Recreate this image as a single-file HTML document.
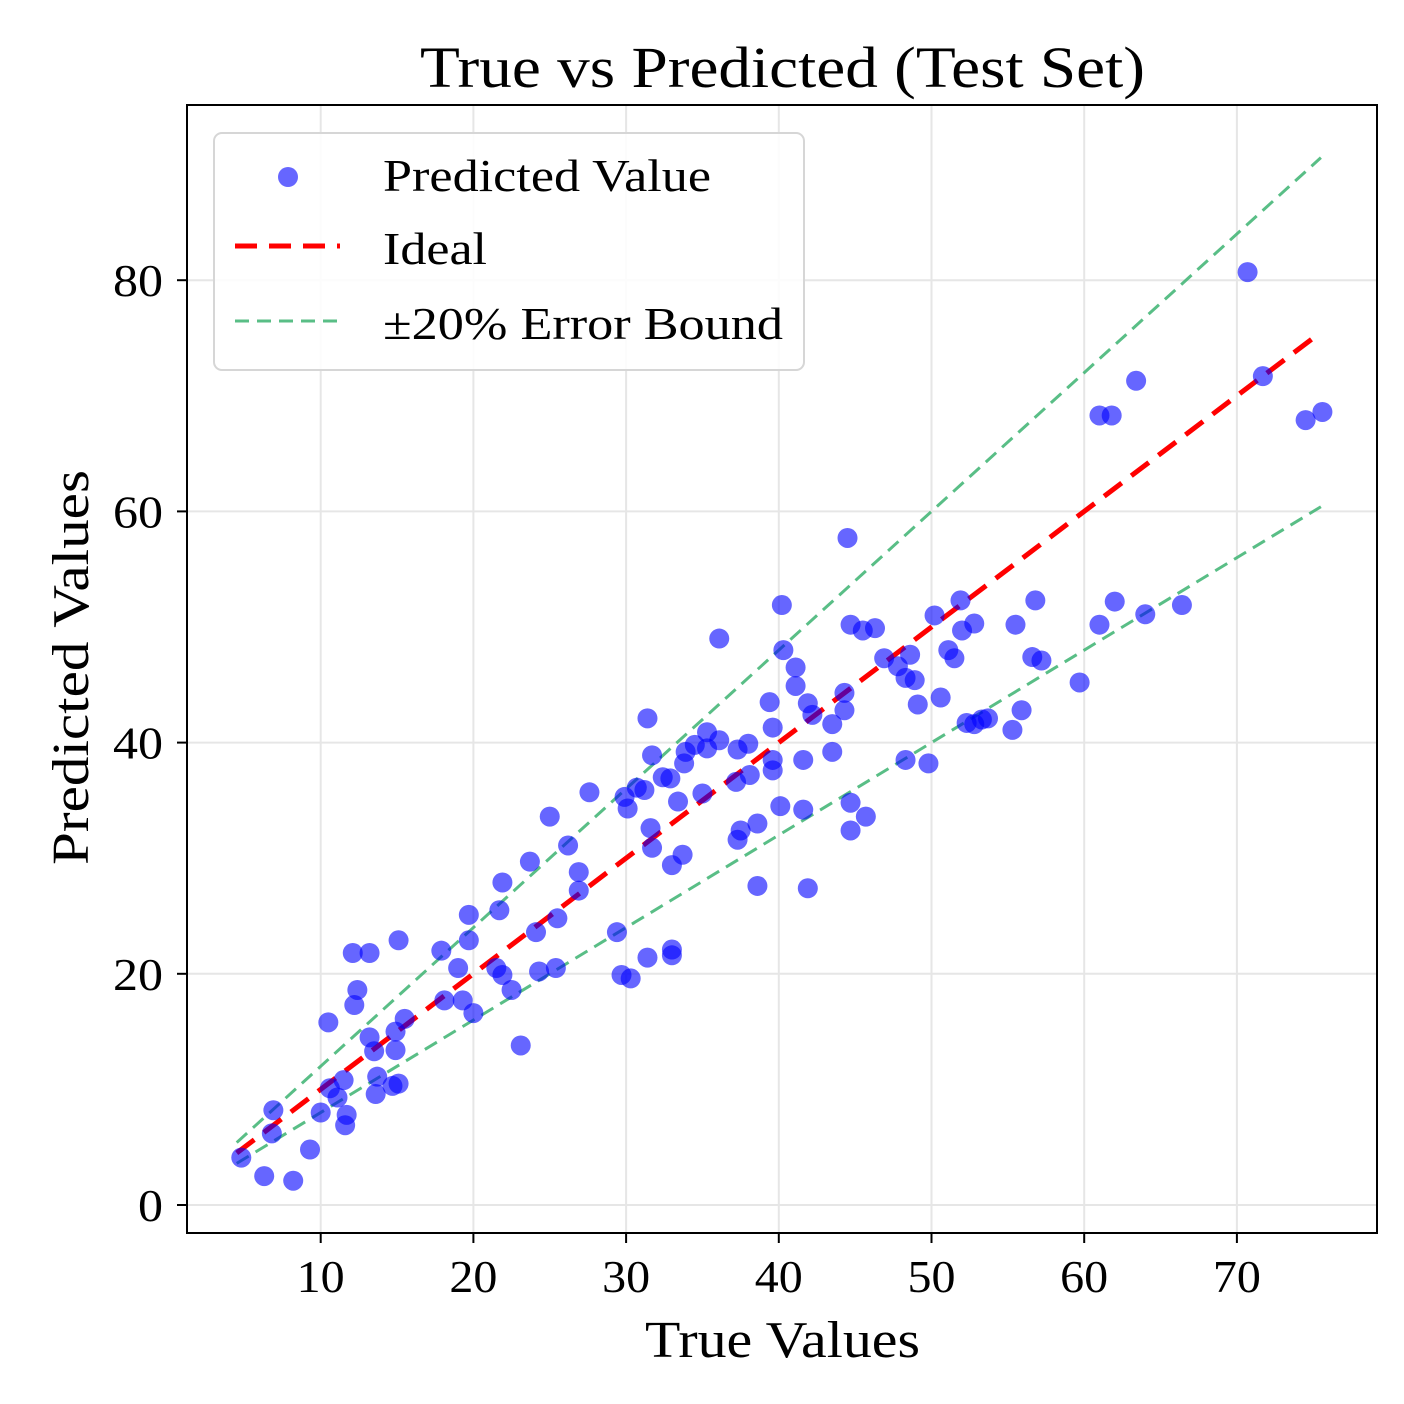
<!DOCTYPE html>
<html><head><meta charset="utf-8"><style>
html,body{margin:0;padding:0;background:#fff;}
svg{display:block;font-family:"Liberation Serif",serif;}
</style></head><body>
<svg id="chart" width="1404" height="1404" viewBox="0 0 1404 1404" xmlns="http://www.w3.org/2000/svg">
<rect width="1404" height="1404" fill="#fff"/>
<text x="420" y="87" font-size="58" textLength="725" lengthAdjust="spacingAndGlyphs">True vs Predicted (Test Set)</text>
<g id="grid"></g>
<g id="lines"></g>
<g id="points"></g>
<rect x="187" y="105" width="1190" height="1128" fill="none" stroke="#000" stroke-width="2"/>
<g id="ticks"></g>
<text x="645" y="1357" font-size="52" textLength="275" lengthAdjust="spacingAndGlyphs">True Values</text>
<text transform="translate(88,865) rotate(-90)" font-size="52" textLength="395" lengthAdjust="spacingAndGlyphs">Predicted Values</text>
<g>
<rect x="214" y="133" width="590" height="237" rx="8" fill="#fff" fill-opacity="0.85" stroke="#d6d6d6" stroke-width="2"/>
<circle cx="288" cy="177" r="10" fill="#0000ff" fill-opacity="0.6"/>
<text x="383" y="191" font-size="46" textLength="328" lengthAdjust="spacingAndGlyphs">Predicted Value</text>
<line x1="235" y1="246" x2="340" y2="246" stroke="#ff0000" stroke-width="5" stroke-dasharray="22,12"/>
<text x="383" y="264" font-size="46" textLength="104" lengthAdjust="spacingAndGlyphs">Ideal</text>
<line x1="235" y1="321" x2="340" y2="321" stroke="#3cb371" stroke-opacity="0.85" stroke-width="3" stroke-dasharray="14,8"/>
<text x="383" y="339" font-size="46" textLength="400" lengthAdjust="spacingAndGlyphs">±20% Error Bound</text>
</g>
</svg>
<script>
const xTicks=[10,20,30,40,50,60,70];
const yTicks=[0,20,40,60,80];
const trueVals=[4.8,6.3,8.2,6.9,6.8,9.3,10,10.5,10.6,11.1,11.5,11.7,11.6,12.1,12.2,12.4,13.2,13.2,13.5,13.7,13.6,14.7,14.9,14.9,15.1,15.1,15.5,17.9,18.1,19,19.3,19.7,19.7,20,21.5,21.7,21.9,21.9,22.5,23.1,23.7,24.1,24.3,25,25.4,25.5,26.2,26.9,26.9,27.6,29.4,29.7,30.3,29.9,30.1,30.7,31.2,31.4,31.4,31.6,31.7,31.7,32.4,32.9,33,33,33,33.4,33.7,33.8,33.9,34.5,35,35.3,35.3,36.1,36.1,37.2,37.3,37.3,37.5,38,38.1,38.6,38.6,39.4,39.6,39.6,39.6,40.1,40.2,40.3,41.1,41.1,41.6,41.6,41.9,41.9,42.2,43.5,43.5,44.3,44.3,44.5,44.7,44.7,44.7,45.5,45.7,46.3,46.9,47.8,48.3,48.3,48.6,48.9,49.1,49.8,50.2,50.6,51.1,51.5,51.9,52,52.3,52.8,52.8,53.3,53.7,55.3,55.5,55.9,56.6,56.8,57.2,59.7,61,61,61.8,62,63.4,64,66.4,70.7,71.7,74.5,75.6];
const predVals=[4.1,2.5,2.1,8.2,6.2,4.8,8,15.8,10.1,9.3,10.8,7.8,6.9,21.8,17.3,18.6,21.8,14.5,13.3,11.1,9.6,10.3,13.4,15,22.9,10.5,16.1,22,17.7,20.5,17.7,25.1,22.9,16.6,20.5,25.5,27.9,19.9,18.6,13.8,29.7,23.6,20.2,33.6,20.5,24.8,31.1,28.8,27.2,35.7,23.6,19.9,19.6,35.3,34.3,36.1,35.9,42.1,21.4,32.6,30.9,38.9,37,36.9,22.1,21.6,29.4,34.9,30.3,38.2,39.2,39.8,35.6,39.5,40.9,49,40.2,36.6,39.4,31.6,32.4,39.9,37.2,33,27.6,43.5,41.3,38.5,37.6,34.5,51.9,48,46.5,44.9,38.5,34.2,27.4,43.4,42.4,41.6,39.2,44.3,42.8,57.7,50.2,34.8,32.4,49.7,33.6,49.9,47.3,46.6,45.6,38.5,47.6,45.4,43.3,38.2,51,43.9,48,47.3,52.3,49.7,41.7,50.3,41.6,42,42.1,41.1,50.2,42.8,47.4,52.3,47.1,45.2,50.2,68.3,68.3,52.2,71.3,51.1,51.9,80.7,71.7,67.9,68.6];
const lineRange=[4.5,75.5];
const boundFactor=0.2;
const NS="http://www.w3.org/2000/svg";
const L=187,R=1377,T=105,B=1233;
const sx=v=>168+v*15.27;
const sy=v=>1205-v*11.56;
function mk(tag,attrs,parent){const e=document.createElementNS(NS,tag);for(const k in attrs)e.setAttribute(k,attrs[k]);parent.appendChild(e);return e;}
const grid=document.getElementById('grid'),ticks=document.getElementById('ticks'),lines=document.getElementById('lines'),pts=document.getElementById('points');
xTicks.forEach(t=>{
  const g=mk('line',{x1:sx(t),x2:sx(t),y1:T,y2:B,stroke:'#e6e6e6','stroke-width':2},grid);
  
  
  const tk=mk('line',{x1:sx(t),x2:sx(t),y1:B,y2:B+10,stroke:'#000','stroke-width':2},ticks);
  
  
  const s=String(t);
  const w=s.length*24;
  const lb=mk('text',{x:sx(t)-w/2,y:B+59,'font-size':46,textLength:w,lengthAdjust:'spacingAndGlyphs'},ticks);
  lb.textContent=s;
  
  
});
yTicks.forEach(t=>{
  const g=mk('line',{x1:L,x2:R,y1:sy(t),y2:sy(t),stroke:'#e6e6e6','stroke-width':2},grid);
  
  
  const tk=mk('line',{x1:L-10,x2:L,y1:sy(t),y2:sy(t),stroke:'#000','stroke-width':2},ticks);
  
  
  const s=String(t);
  const w=s.length*25;
  const lb=mk('text',{x:L-24-w,y:sy(t)+16,'font-size':46,textLength:w,lengthAdjust:'spacingAndGlyphs'},ticks);
  lb.textContent=s;
  
  
});
trueVals.forEach((v,i)=>{
  const c=mk('circle',{cx:sx(v),cy:sy(predVals[i]),r:10,fill:'#0000ff','fill-opacity':0.6},pts);
  
  
});
const a=lineRange[0],b=lineRange[1];
const up=mk('line',{x1:sx(a),y1:sy(a*(1+boundFactor)),x2:sx(b),y2:sy(b*(1+boundFactor)),stroke:'#3cb371','stroke-opacity':0.85,'stroke-width':3,'stroke-dasharray':'14,8'},lines);


const lo=mk('line',{x1:sx(a),y1:sy(a*(1-boundFactor)),x2:sx(b),y2:sy(b*(1-boundFactor)),stroke:'#3cb371','stroke-opacity':0.85,'stroke-width':3,'stroke-dasharray':'14,8'},lines);


const id=mk('line',{x1:sx(a),y1:sy(a),x2:sx(b),y2:sy(b),stroke:'#ff0000','stroke-width':5,'stroke-dasharray':'22,12'},lines);


</script>
</body></html>
